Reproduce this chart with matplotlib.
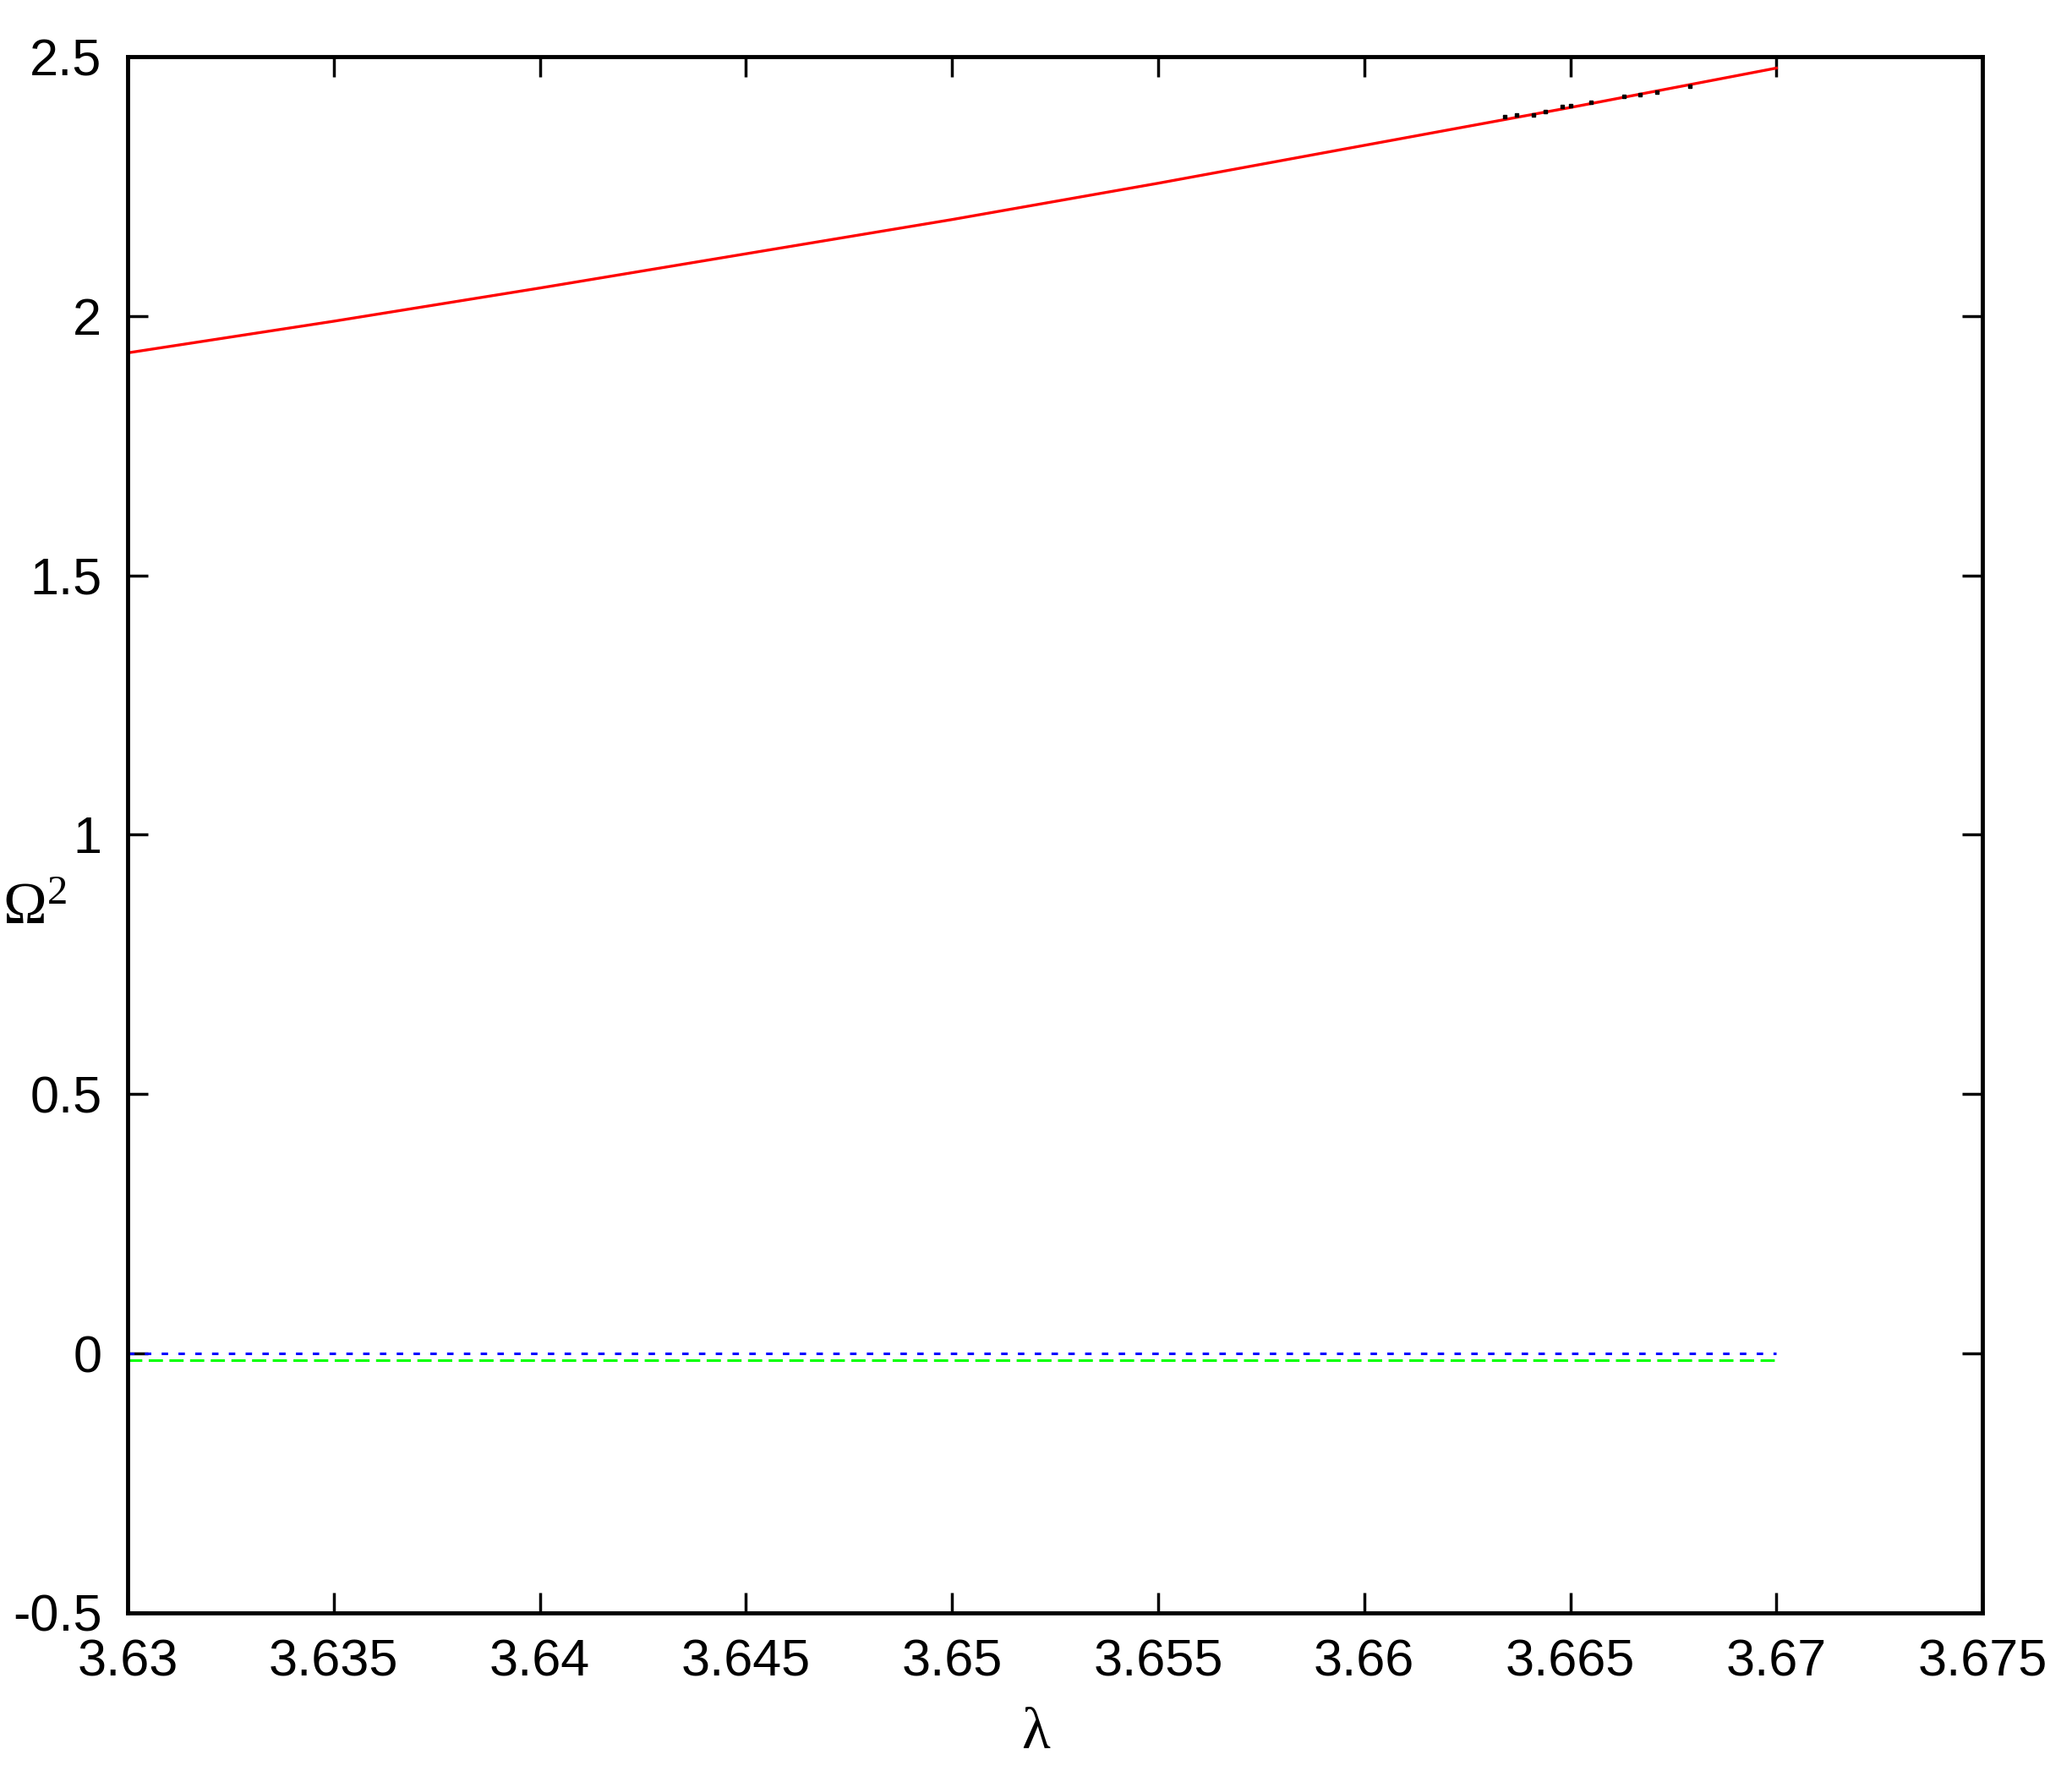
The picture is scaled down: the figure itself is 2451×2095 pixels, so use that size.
import matplotlib
matplotlib.use("Agg")
import matplotlib.pyplot as plt

# red branch, Omega^2 vs lambda
lam_red = [3.630, 3.635, 3.640, 3.645, 3.650, 3.655, 3.660, 3.665, 3.670]
om_red = [1.929, 1.990, 2.054, 2.120, 2.186, 2.256, 2.329, 2.402, 2.478]

# flat branches near zero
lam_flat = [3.630, 3.670]
om_blue = [0.0, 0.0]
om_green = [-0.013, -0.013]

# scattered black points near the top
lam_dots = [3.6634, 3.6637, 3.6641, 3.6644, 3.6648, 3.6650, 3.6655, 3.6663, 3.6667, 3.6671, 3.6679]
om_dots = [2.384, 2.388, 2.388, 2.394, 2.404, 2.405, 2.412, 2.423, 2.427, 2.432, 2.443]

plt.rcParams['font.family'] = ['Liberation Sans', 'DejaVu Sans']
plt.rcParams['mathtext.fontset'] = 'custom'
plt.rcParams['mathtext.rm'] = 'Liberation Serif'
plt.rcParams['mathtext.it'] = 'Liberation Serif'
plt.rcParams['mathtext.default'] = 'rm'

fig = plt.figure(figsize=(24.51, 20.95), dpi=100)
ax = fig.add_axes([0.0616, 0.0893, 0.8952, 0.8787])

ax.plot(lam_flat, om_blue, color='#0000ff', lw=2.2, dashes=(2.5, 4.0))
ax.plot(lam_flat, om_green, color='#00ff00', lw=2.2, dashes=(5.5, 2.5))
ax.plot(lam_red, om_red, color='#ff0000', lw=2.4)
ax.plot(lam_dots, om_dots, ls='none', marker='s', ms=3, color='black')

ax.set_xlim(3.63, 3.675)
ax.set_ylim(-0.5, 2.5)
ax.set_xticks([3.63, 3.635, 3.64, 3.645, 3.65, 3.655, 3.66, 3.665, 3.67, 3.675])
ax.set_xticklabels(['3.63', '3.635', '3.64', '3.645', '3.65', '3.655', '3.66', '3.665', '3.67', '3.675'])
ax.set_yticks([-0.5, 0, 0.5, 1, 1.5, 2, 2.5])
ax.set_yticklabels(['-0.5', '0', '0.5', '1', '1.5', '2', '2.5'])

ax.tick_params(direction='in', length=17, width=2.5, labelsize=44,
               top=True, right=True, pad=22)
for s in ax.spines.values():
    s.set_linewidth(3.5)

ax.set_xlabel('λ', family=['Liberation Serif', 'DejaVu Serif'], fontsize=50, va='center')
ax.xaxis.set_label_coords(0.5, 0.021, transform=fig.transFigure)
ax.set_ylabel(r'$\Omega^2$', fontsize=50, rotation=0, ha='center', va='center')
ax.yaxis.set_label_coords(0.0165, 0.487, transform=fig.transFigure)

fig.savefig('out.png', dpi=100)
